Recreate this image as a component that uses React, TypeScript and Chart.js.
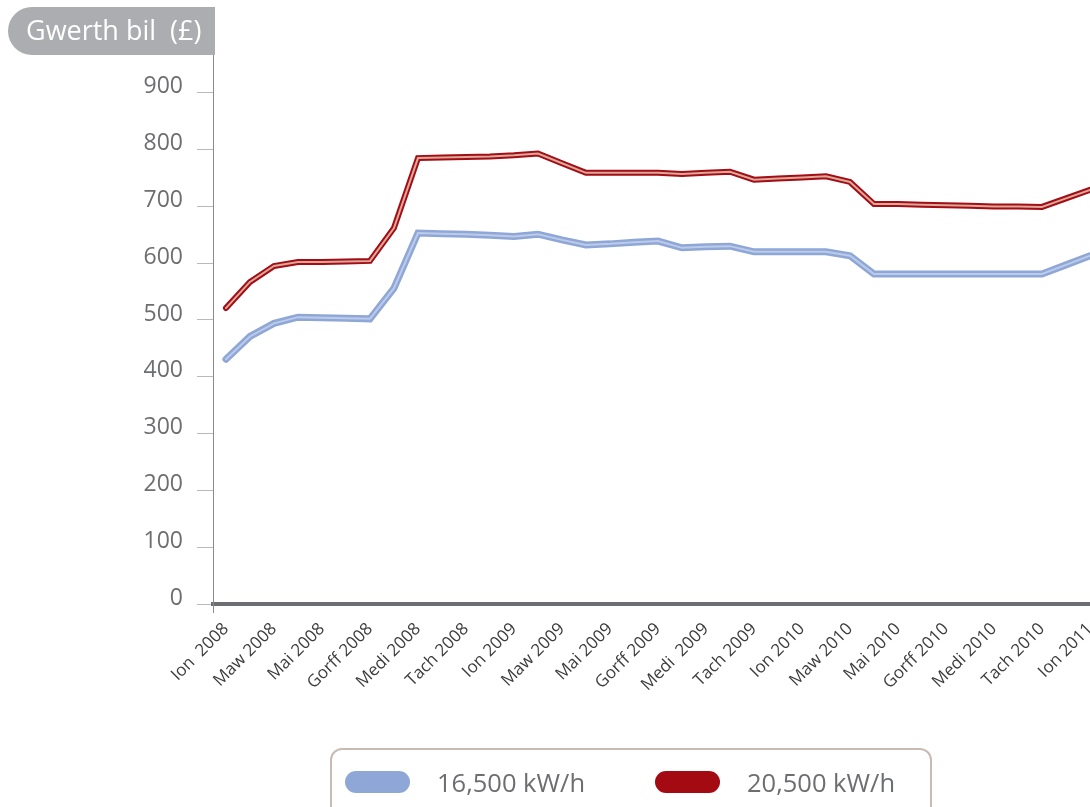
import React, { useEffect, useRef } from "react";
import { Chart, registerables } from "chart.js";

Chart.register(...registerables);

// Monthly points, Jan 2008 (0) to Jan 2011 (36)
const months: number[] = Array.from({ length: 37 }, (_, i) => i);

const series16500: number[] = [
  431, 471, 494, 505, 504, 503, 502, 556, 653, 652, 651, 649,
  647, 651, 641, 632, 634, 637, 639, 627, 629, 630, 620, 620,
  620, 620, 613, 581, 581, 581, 581, 581, 581, 581, 581, 597,
  613,
];

const series20500: number[] = [
  521, 567, 595, 602, 602, 603, 604, 662, 785, 786, 787, 788,
  790, 793, 776, 759, 759, 759, 759, 757, 759, 761, 747, 749,
  751, 753, 743, 704, 704, 703, 702, 701, 700, 700, 699, 714,
  729,
];

const tickLabels: string[] = [
  "Ion  2008", "Maw 2008", "Mai 2008", "Gorff 2008", "Medi 2008", "Tach 2008",
  "Ion 2009", "Maw 2009", "Mai 2009", "Gorff 2009", "Medi  2009", "Tach 2009",
  "Ion 2010", "Maw 2010", "Mai 2010", "Gorff 2010", "Medi 2010", "Tach 2010",
  "Ion 2011",
];

const yTicks: number[] = [0, 100, 200, 300, 400, 500, 600, 700, 800, 900];

const legendLabels: string[] = ["16,500 kW/h", "20,500 kW/h"];
const titleText = "Gwerth bil  (£)";

const BLUE_OUT = "#8fa7d7";
const BLUE_IN = "#bccbe9";
const RED_OUT = "#a30d16";
const RED_IN = "#dca898";

const FONT = "'Open Sans', 'Noto Sans', sans-serif";

export default function App() {
  const ref = useRef<HTMLCanvasElement | null>(null);

  useEffect(() => {
    if (!ref.current) return;
    const pts = (vals: number[]) => months.map((m, i) => ({ x: m, y: vals[i] }));

    const axisExtend = {
      id: "axisExtend",
      afterDraw(chart: any) {
        const { ctx, chartArea } = chart;
        ctx.save();
        ctx.strokeStyle = "#8a8a8a";
        ctx.lineWidth = 1;
        ctx.beginPath();
        ctx.moveTo(chartArea.left + 0.5, chartArea.bottom);
        ctx.lineTo(chartArea.left + 0.5, chartArea.bottom + 9);
        ctx.stroke();
        ctx.restore();
      },
    };

    const chart = new Chart(ref.current, {
      type: "line",
      data: {
        datasets: [
          { label: legendLabels[0], data: pts(series16500), borderColor: BLUE_OUT, borderWidth: 7, order: 1 },
          { label: legendLabels[0] + " inner", data: pts(series16500), borderColor: BLUE_IN, borderWidth: 2, order: 0 },
          { label: legendLabels[1], data: pts(series20500), borderColor: RED_OUT, borderWidth: 6, order: 1 },
          { label: legendLabels[1] + " inner", data: pts(series20500), borderColor: RED_IN, borderWidth: 2, order: 0 },
        ].map((d) => ({
          ...d,
          pointRadius: 0,
          pointHoverRadius: 0,
          tension: 0,
          fill: false,
          borderCapStyle: "round" as const,
          borderJoinStyle: "miter" as const,
        })),
      },
      options: {
        responsive: false,
        animation: false,
        devicePixelRatio: 1,
        layout: { padding: { top: 55, left: 0, right: 0, bottom: 0 }, autoPadding: false },
        plugins: { legend: { display: false }, tooltip: { enabled: false } },
        scales: {
          x: {
            type: "linear",
            min: -0.54,
            max: 36,
            afterBuildTicks: (scale: any) => {
              scale.ticks = tickLabels.map((_, i) => ({ value: i * 2 }));
            },
            afterFit: (scale: any) => {
              scale.height = 807 - 604;
              scale.paddingLeft = 0;
              scale.paddingRight = 0;
            },
            grid: { display: false },
            border: { display: true, color: "#6d6e71", width: 4 },
            ticks: {
              autoSkip: false,
              minRotation: 45,
              maxRotation: 45,
              padding: 7,
              color: "#3c3c3c",
              font: { family: FONT, size: 17 },
              callback: (v: any) => tickLabels[Math.round(Number(v) / 2)] ?? "",
            },
          },
          y: {
            min: 0,
            max: 966.5,
            afterBuildTicks: (scale: any) => {
              scale.ticks = yTicks.map((v) => ({ value: v }));
            },
            afterFit: (scale: any) => {
              scale.width = 213;
            },
            grid: { display: true, drawOnChartArea: false, drawTicks: true, tickLength: 16, color: "#b9b9b9", lineWidth: 1 },
            border: { display: true, color: "#8a8a8a", width: 1 },
            ticks: {
              padding: 14,
              labelOffset: -6,
              color: "#6d6e71",
              font: { family: FONT, size: 23 },
            },
          },
        },
      },
      plugins: [axisExtend],
    });
    return () => chart.destroy();
  }, []);

  return (
    <div style={{ position: "absolute", left: 0, top: 0, width: 1090, height: 807, overflow: "hidden", background: "#fff" }}>
      <canvas ref={ref} width={1090} height={807} style={{ position: "absolute", left: 0, top: 0 }} />
      <div
        style={{
          position: "absolute",
          left: 8,
          top: 7,
          width: 207,
          height: 48,
          background: "#acadb0",
          borderRadius: "24px 0 0 24px",
          color: "#fff",
          fontFamily: FONT,
          fontSize: 27,
          lineHeight: "46px",
          paddingLeft: 18,
          boxSizing: "border-box",
          whiteSpace: "pre",
          overflow: "hidden",
        }}
      >
        {titleText}
      </div>
      <div
        style={{
          position: "absolute",
          left: 330,
          top: 748,
          width: 602,
          height: 80,
          border: "2px solid #c9bbb3",
          borderRadius: 12,
          boxSizing: "border-box",
          fontFamily: FONT,
          color: "#6d6e71",
        }}
      >
        {[BLUE_OUT, "#a30a12"].map((c, i) => (
          <div key={i} style={{ position: "absolute", left: i === 0 ? 13 : 323, top: 21, display: "flex", alignItems: "center" }}>
            <div style={{ width: 65, height: 22, borderRadius: 11, background: c }} />
            <div style={{ marginLeft: 27, fontSize: 25.5, whiteSpace: "pre", lineHeight: "22px" }}>{legendLabels[i]}</div>
          </div>
        ))}
      </div>
    </div>
  );
}
